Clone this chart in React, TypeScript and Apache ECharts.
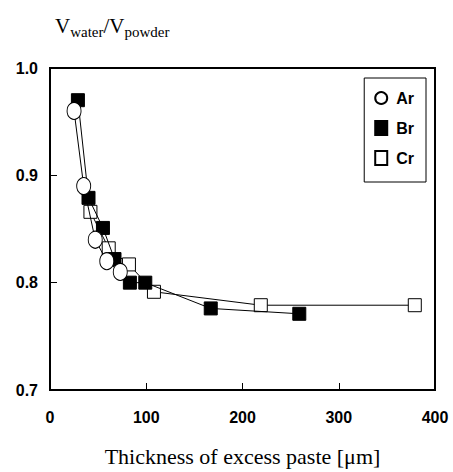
import React, { useEffect, useRef } from "react";
import * as echarts from "echarts";

const arData: [number, number][] = [
  [25, 0.96], [35, 0.89], [47, 0.84], [59, 0.82], [73, 0.81],
];
const brData: [number, number][] = [
  [29, 0.97], [40, 0.879], [55, 0.851], [67, 0.822], [83, 0.8], [99, 0.8], [167, 0.776], [259, 0.771],
];
const crData: [number, number][] = [
  [42, 0.866], [61, 0.832], [82, 0.817], [108, 0.7915], [219, 0.779], [379, 0.779],
];
const seriesNames = ["Ar", "Br", "Cr"];
const xTitle = "Thickness of excess paste [\u03bcm]";

export default function App() {
  const ref = useRef<HTMLDivElement>(null);
  useEffect(() => {
    if (!ref.current) return;
    const chart = echarts.init(ref.current, undefined, { renderer: "svg" });
    const labelFont = { color: "#000", fontFamily: "Liberation Sans", fontWeight: "bold" as const, fontSize: 16 };
    chart.setOption({
      animation: false,
      backgroundColor: "#fff",
      grid: { left: 50, right: 18, top: 68, bottom: 73, show: true, borderColor: "#000", borderWidth: 2 },
      xAxis: {
        type: "value", min: 0, max: 400, interval: 100,
        name: xTitle, nameLocation: "middle", nameGap: 55,
        nameTextStyle: { color: "#000", fontFamily: "Liberation Serif", fontSize: 22 },
        axisLine: { lineStyle: { color: "#000", width: 2 } },
        axisTick: { inside: true, length: 7, lineStyle: { color: "#000", width: 1 } },
        axisLabel: { ...labelFont, margin: 19 },
        splitLine: { show: false },
      },
      yAxis: {
        type: "value", min: 0.7, max: 1.0, interval: 0.1,
        axisLine: { show: true, lineStyle: { color: "#000", width: 2 } },
        axisTick: { show: true, inside: true, length: 7, lineStyle: { color: "#000", width: 1 } },
        axisLabel: { ...labelFont, margin: 12, formatter: (v: number) => v.toFixed(1) },
        splitLine: { show: false },
      },
      legend: {
        data: [
          { name: "Ar", icon: "circle" },
          { name: "Br", icon: "rect" },
          { name: "Cr", icon: "rect" },
        ],
        orient: "vertical", right: 27, top: 78,
        borderColor: "#000", borderWidth: 1, borderRadius: 0,
        padding: [12, 12, 16, 10], itemGap: 14, itemWidth: 12, itemHeight: 14,
        lineStyle: { opacity: 0, width: 0 },
        textStyle: { ...labelFont, fontSize: 16, padding: [0, 0, 0, 4] },
      },
      graphic: [
        {
          type: "text", left: 55, top: 15,
          style: {
            text: "{v|V}{s|water}{v|/V}{s|powder}",
            rich: {
              v: { fontFamily: "Liberation Serif", fontSize: 21, color: "#000", lineHeight: 24, verticalAlign: "top" },
              s: { fontFamily: "Liberation Serif", fontSize: 15, color: "#000", lineHeight: 15, verticalAlign: "bottom", padding: [0, 0, 0, 0] },
            },
          },
        },
      ],
      series: [
        {
          name: seriesNames[2], type: "line", data: crData, symbol: "rect", symbolSize: 13,
          itemStyle: { color: "#fff", borderColor: "#000", borderWidth: 1 },
          lineStyle: { color: "#000", width: 1 }, z: 2,
        },
        {
          name: seriesNames[1], type: "line", data: brData, symbol: "rect", symbolSize: 13,
          itemStyle: { color: "#000", borderColor: "#000", borderWidth: 1 },
          lineStyle: { color: "#000", width: 1 }, z: 3,
        },
        {
          name: seriesNames[0], type: "line", data: arData, symbol: "circle", symbolSize: [14, 17],
          itemStyle: { color: "#fff", borderColor: "#000", borderWidth: 1 },
          lineStyle: { color: "#000", width: 1 }, z: 4,
        },
      ],
    });
    return () => chart.dispose();
  }, []);
  return <div ref={ref} style={{ width: 453, height: 472, position: "absolute", left: 0, top: 0 }} />;
}
